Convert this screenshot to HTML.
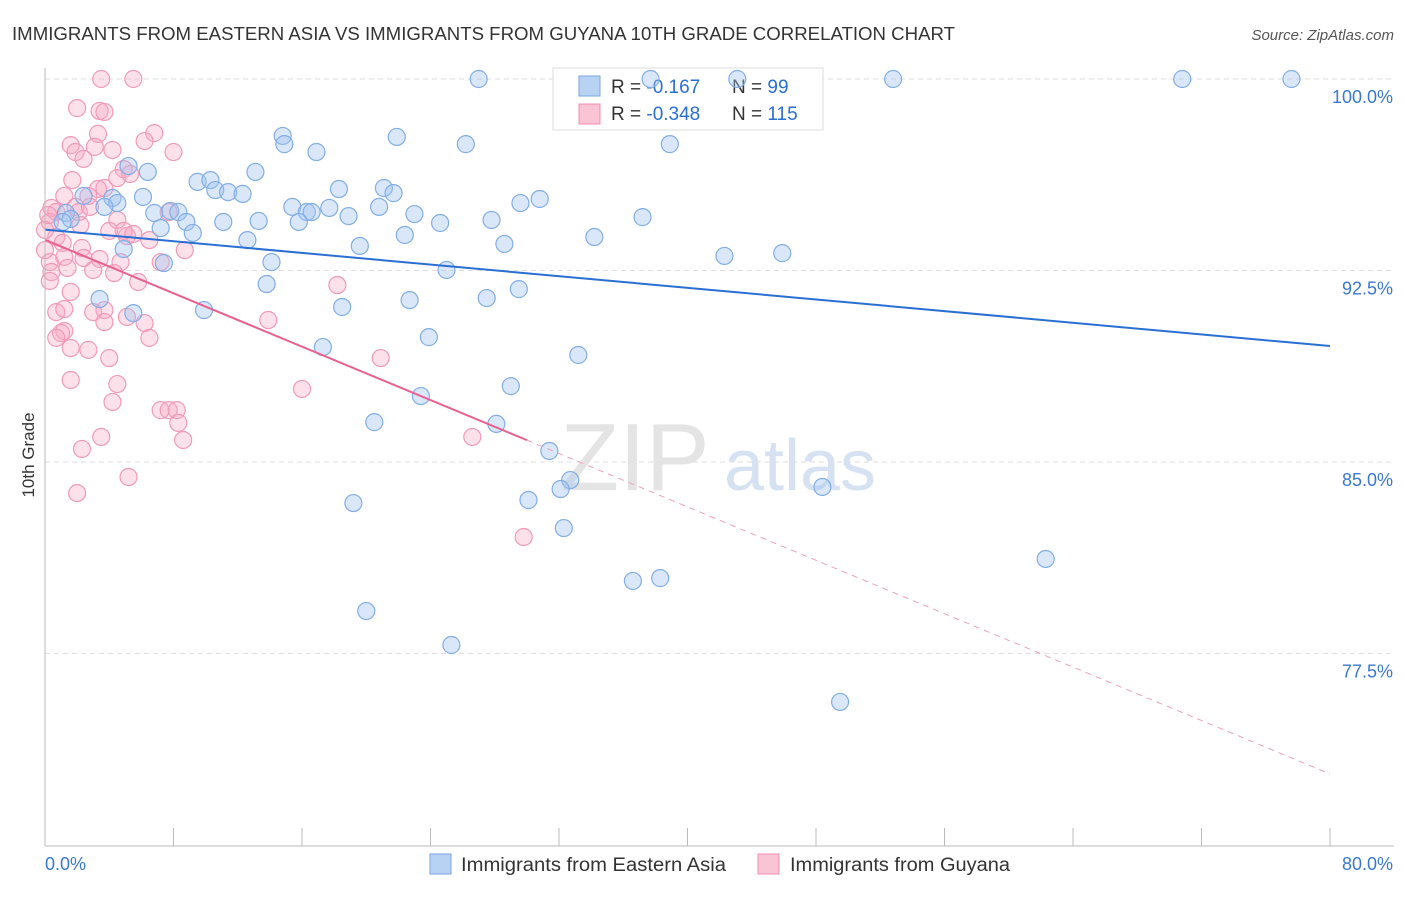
<!DOCTYPE html>
<html><head><meta charset="utf-8"><style>
body{margin:0;background:#fff;font-family:"Liberation Sans",sans-serif}
svg text{font-family:"Liberation Sans",sans-serif}
</style></head><body>
<svg id="chart" width="1406" height="892" xmlns="http://www.w3.org/2000/svg">
<text x="12" y="40" font-size="18" fill="#333" textLength="943" lengthAdjust="spacingAndGlyphs">IMMIGRANTS FROM EASTERN ASIA VS IMMIGRANTS FROM GUYANA 10TH GRADE CORRELATION CHART</text>
<text x="1394" y="40" font-size="15" fill="#555" text-anchor="end" font-style="italic">Source: ZipAtlas.com</text>
<text x="34" y="455" font-size="17" fill="#333" text-anchor="middle" transform="rotate(-90 34 455)">10th Grade</text>
<g id="grid"></g>
<g id="wm">
<text x="635" y="490" font-size="96" fill="#e4e4e4" font-family="Liberation Serif" text-anchor="middle">ZIP</text>
<text x="800" y="490" font-size="72" fill="#d6e2f2" text-anchor="middle">atlas</text>
</g>
<g>
<rect x="553" y="68" width="270" height="62" fill="#fff" stroke="#ddd"/>
<rect x="579" y="76" width="21" height="20" fill="#b8d2f4" stroke="#7aa6e0"/>
<rect x="579" y="104" width="21" height="20" fill="#f9c4d4" stroke="#f08cac"/>
<text x="611" y="93" font-size="19" fill="#333">R = <tspan fill="#2a6fd4"> -0.167</tspan></text>
<text x="732" y="93" font-size="19" fill="#333">N = <tspan fill="#2a6fd4"> 99</tspan></text>
<text x="611" y="120" font-size="19" fill="#333">R = <tspan fill="#2a6fd4">-0.348</tspan></text>
<text x="732" y="120" font-size="19" fill="#333">N = <tspan fill="#2a6fd4">115</tspan></text>
</g>
<g id="pts"></g>
<g id="lines"></g>
<g id="axes"></g>
<g>
<rect x="430" y="854" width="21" height="20" fill="#b8d2f4" stroke="#7aa6e0"/>
<text x="461" y="871" font-size="19" fill="#333" textLength="265" lengthAdjust="spacingAndGlyphs">Immigrants from Eastern Asia</text>
<rect x="758" y="854" width="21" height="20" fill="#f9c4d4" stroke="#f08cac"/>
<text x="790" y="871" font-size="19" fill="#333" textLength="220" lengthAdjust="spacingAndGlyphs">Immigrants from Guyana</text>
</g>
</svg>
<script>
const xTicksVals=[0,8,16,24,32,40,48,56,64,72,80];
const yTickVals=[100,92.5,85,77.5];
const yTickLabels=["100.0%","92.5%","85.0%","77.5%"];
const blueX=[27.0,37.7,43.1,52.8,70.8,77.6,14.8,14.9,16.9,21.9,26.2,38.9,5.2,6.4,13.1,9.5,10.3,10.6,11.4,12.3,6.1,2.4,4.2,4.5,3.7,18.3,21.1,21.7,15.4,16.3,16.6,17.7,20.8,23.0,18.9,29.6,30.8,6.8,7.8,8.3,8.8,11.1,13.3,15.8,24.6,27.8,37.2,7.2,9.2,12.6,1.3,1.6,1.1,22.4,19.6,28.6,34.2,4.9,7.4,14.1,25.0,42.3,45.9,13.8,29.5,27.5,3.4,22.7,18.5,9.9,5.5,23.9,17.3,33.2,29.0,23.4,20.5,28.1,31.4,32.7,32.1,30.1,19.2,48.4,32.3,36.6,38.3,62.3,20.0,25.3,49.5];
const blueY=[100,100,100,100,100,100,97.77,97.45,97.14,97.73,97.45,97.45,96.59,96.36,96.36,95.97,96.04,95.65,95.57,95.50,95.38,95.42,95.34,95.14,94.99,95.69,95.73,95.53,94.99,94.79,94.79,94.95,94.99,94.71,94.63,95.14,95.30,94.75,94.83,94.79,94.40,94.40,94.44,94.40,94.36,94.48,94.59,94.16,93.97,93.69,94.75,94.52,94.40,93.89,93.46,93.54,93.81,93.34,92.79,92.83,92.52,93.07,93.18,91.97,91.77,91.42,91.38,91.34,91.07,90.95,90.83,89.89,89.50,89.19,87.97,87.58,86.56,86.49,85.43,84.29,83.94,83.51,83.39,84.02,82.41,80.34,80.45,81.20,79.16,77.83,75.60];
const pinkX=[3.5,5.5,2.0,3.4,3.7,3.3,6.8,1.6,1.9,2.4,4.2,6.2,8.0,3.1,4.9,4.5,5.3,1.7,3.3,3.7,1.2,2.7,0.4,0.7,1.9,2.1,2.8,4.5,0.3,2.2,4.0,5.1,4.9,5.5,6.5,7.7,0.7,1.1,2.3,1.2,0.3,1.4,0.4,2.4,3.4,4.7,3.0,4.3,7.2,8.7,1.6,5.8,0.3,0.7,1.2,3.0,3.7,3.7,5.1,6.2,1.2,1.0,0.7,6.5,13.9,18.2,1.6,2.7,4.0,20.9,1.6,4.5,4.2,16.0,7.2,7.7,8.2,8.3,8.6,3.5,26.6,2.3,5.2,2.0,29.8,0.0,0.0,0.2];
const pinkY=[100,100,98.86,98.75,98.71,97.85,97.88,97.41,97.14,96.87,97.22,97.57,97.14,97.34,96.47,96.12,96.28,96.04,95.69,95.73,95.42,95.42,94.95,94.79,94.99,94.79,94.99,94.48,94.40,94.28,94.05,93.85,94.05,93.93,93.69,94.79,93.81,93.58,93.38,93.03,92.83,92.60,92.44,92.99,92.95,92.83,92.52,92.40,92.83,93.30,91.66,92.05,92.09,90.87,90.99,90.87,90.95,90.48,90.68,90.44,90.13,90.05,89.86,89.86,90.56,91.93,89.46,89.39,89.07,89.07,88.21,88.05,87.35,87.86,87.03,87.03,87.03,86.53,85.86,85.98,85.98,85.51,84.41,83.78,82.06,94.09,93.30,94.67];
const blueFit=[94.1,-0.057];
const pinkFit=[93.7,-0.2615];
const pinkSolidEnd=30;

const NS="http://www.w3.org/2000/svg";
const X0=45,X1=1330,YTOP=79,PPU=25.53;
const sx=v=>X0+(v/80)*(X1-X0);
const sy=v=>YTOP+(100-v)*PPU;
function mk(tag,attrs,parent){const e=document.createElementNS(NS,tag);for(const k in attrs)e.setAttribute(k,attrs[k]);parent.appendChild(e);return e;}
const grid=document.getElementById('grid'),axes=document.getElementById('axes'),pts=document.getElementById('pts'),lines=document.getElementById('lines');
yTickVals.forEach((v,i)=>{
 const l=mk('line',{x1:X0,x2:1394,y1:sy(v),y2:sy(v),stroke:'#ddd','stroke-dasharray':'5,4'},grid);
 
 
 const t=mk('text',{x:1393,y:sy(v)+24,'font-size':18,fill:'#3a78d0','text-anchor':'end'},axes);
 t.textContent=yTickLabels[i];
 
 
});
const ya=mk('line',{x1:X0,x2:X0,y1:68,y2:846,stroke:'#bbb'},axes);


const xa=mk('line',{x1:X0,x2:1394,y1:846,y2:846,stroke:'#bbb'},axes);


xTicksVals.forEach(v=>{
 const t=mk('line',{x1:sx(v),x2:sx(v),y1:828,y2:846,stroke:'#bbb'},axes);
 
 
});
const xl0=mk('text',{x:45,y:870,'font-size':18,fill:'#3a78d0'},axes);xl0.textContent='0.0%';


const xl1=mk('text',{x:1393,y:870,'font-size':18,fill:'#3a78d0','text-anchor':'end'},axes);xl1.textContent='80.0%';


pinkX.forEach((x,i)=>{
 const c=mk('circle',{cx:sx(x),cy:sy(pinkY[i]),r:8.5,fill:'rgba(247,170,195,0.35)',stroke:'#f29ab8','stroke-width':1.2},pts);
 
 
});
blueX.forEach((x,i)=>{
 const c=mk('circle',{cx:sx(x),cy:sy(blueY[i]),r:8.5,fill:'rgba(160,196,240,0.4)',stroke:'#82aee6','stroke-width':1.2},pts);
 
 
});
const bl=mk('line',{x1:sx(0),y1:sy(blueFit[0]),x2:sx(80),y2:sy(blueFit[0]+blueFit[1]*80),stroke:'#2a6fd4','stroke-width':2},lines);


const pl=mk('line',{x1:sx(0),y1:sy(pinkFit[0]),x2:sx(pinkSolidEnd),y2:sy(pinkFit[0]+pinkFit[1]*pinkSolidEnd),stroke:'#e8608e','stroke-width':2},lines);


const pd=mk('line',{x1:sx(pinkSolidEnd),y1:sy(pinkFit[0]+pinkFit[1]*pinkSolidEnd),x2:sx(80),y2:sy(pinkFit[0]+pinkFit[1]*80),stroke:'#f0a0bc','stroke-width':1,'stroke-dasharray':'6,5'},lines);


</script>
</body></html>
